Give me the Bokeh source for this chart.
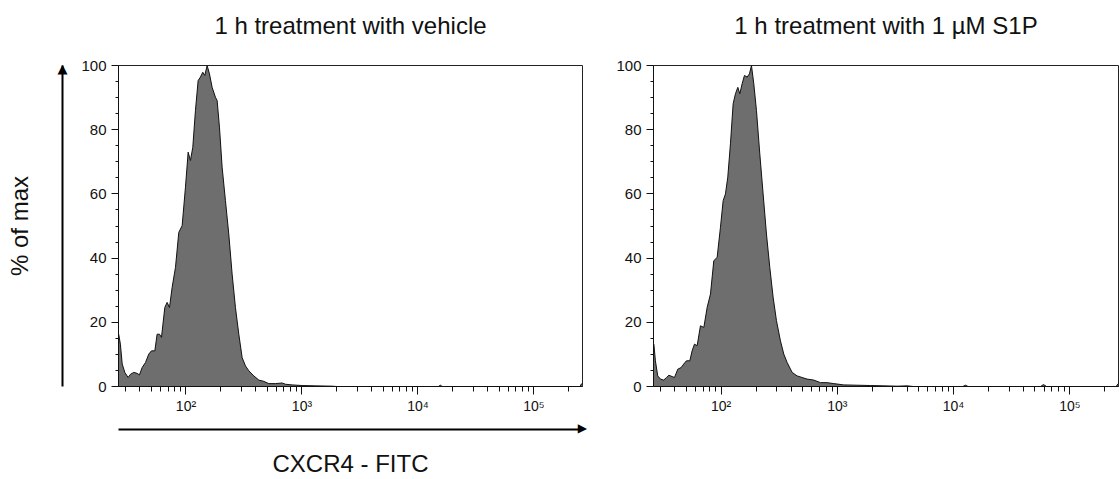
from bokeh.plotting import figure
from bokeh.models import Range1d, FixedTicker, LinearAxis, LogAxis
from bokeh.layouts import row
from bokeh.embed import file_html
from bokeh.resources import INLINE

FONT = "Liberation Sans"

titles = ["1 h treatment with vehicle", "1 h treatment with 1 µM S1P"]
y_label = "% of max"
x_label = "CXCR4 - FITC"

x_major_ticks = [100, 1000, 10000, 100000]
x_major_labels = ["10²", "10³", "10⁴", "10⁵"]
x_minor_ticks = [30, 40, 50, 60, 70, 80, 90,
                 200, 300, 400, 500, 600, 700, 800, 900,
                 2000, 3000, 4000, 5000, 6000, 7000, 8000, 9000,
                 20000, 30000, 40000, 50000, 60000, 70000, 80000, 90000,
                 200000]
y_major_ticks = [0, 20, 40, 60, 80, 100]
y_minor_ticks = [5, 10, 15, 25, 30, 35, 45, 50, 55, 65, 70, 75, 85, 90, 95]

vehicle_x = [26.3, 27.2, 28.2, 29.7, 31.7, 33.2, 35.5, 37.9, 39.7, 41.9,
             44.8, 47.8, 50.4, 53.9, 56.4, 59.1, 61.5, 65.7, 68.8, 72.1,
             76.0, 81.2, 86.7, 92.7, 99.0, 104.4, 109.3, 114.5, 120.7, 127.3,
             133.3, 139.6, 145.3, 152.2, 159.4, 168.1, 179.5, 185.6, 194.4, 205.0,
             218.9, 233.9, 250.0, 267.0, 285.4, 304.9, 325.9, 348.1, 384.6, 424.6,
             468.8, 517.6, 590.6, 674.5, 720.8, 822.5, 1003, 1307, 1820, 2000,
             15000, 15600, 16200, 250000, 256000, 262144]
vehicle_pct = [16.3, 13.2, 7.0, 4.4, 2.8, 3.8, 4.4, 4.1, 3.6, 5.9,
               7.5, 10.1, 11.1, 11.1, 16.3, 16.3, 15.3, 24.6, 26.2, 24.6,
               30.9, 37.1, 48.0, 50.1, 62.1, 73.0, 70.4, 74.5, 86.0, 95.3,
               96.4, 97.9, 96.9, 100, 97.4, 93.2, 90.1, 89.1, 80.8, 68.3,
               57.9, 47.5, 35.0, 24.6, 16.3, 9.0, 6.4, 4.9, 3.3, 2.0,
               1.6, 0.9, 0.9, 1.1, 0.7, 0.5, 0.3, 0.2, 0.1, 0,
               0, 0.4, 0, 0, 0.8, 0.8]

s1p_x = [26.4, 27.2, 28.5, 30.1, 32.1, 33.9, 35.5, 37.9, 39.7, 42.4,
         45.3, 47.7, 50.3, 53.8, 56.3, 59.0, 62.2, 66.4, 71.0, 75.8,
         81.0, 86.5, 92.4, 98.7, 104.1, 109.0, 114.1, 120.3, 126.9, 132.9,
         139.2, 144.8, 151.6, 158.8, 167.4, 175.3, 182.4, 191.0, 201.4, 215.1,
         229.8, 245.5, 262.2, 280.2, 299.3, 324.0, 346.0, 369.7, 408.1, 450.7,
         497.7, 549.6, 626.9, 715.5, 816.4, 931.8, 1136, 1479, 1926, 2507,
         3267, 3983, 4500, 12000, 12650, 13300, 56000, 59300, 63000, 250000,
         262144]
s1p_pct = [13.2, 8.0, 3.3, 2.3, 2.0, 2.8, 3.5, 3.1, 2.8, 5.4,
           5.9, 7.0, 8.0, 8.0, 11.1, 13.2, 12.7, 18.9, 18.4, 24.6,
           28.8, 39.2, 40.2, 49.6, 57.9, 60.0, 65.2, 75.6, 88.1, 91.2,
           93.2, 91.2, 94.3, 96.9, 96.4, 97.4, 100, 94.3, 86.0, 72.5,
           60.0, 47.5, 37.1, 27.8, 20.5, 14.2, 10.1, 7.5, 4.4, 3.3,
           2.8, 2.3, 2.0, 1.2, 1.2, 0.9, 0.5, 0.4, 0.3, 0.2,
           0.1, 0.2, 0, 0, 0.4, 0, 0, 0.6, 0, 0,
           1.0]

X_MIN, X_MAX = 26.2, 262144
ARROW_TIP_X = 261000   # where the x-arrow head sits
ARROW_TIP_Y = 99       # where the y-arrow head sits
SPACER_X = 1000        # tick value of the invisible spacer tick (bottom)
SPACER_Y = 50          # tick value of the invisible spacer tick (left)
FILL = "#6e6e6e"
INK = "#111111"


def no_ticks(ax):
    ax.major_tick_line_color = None
    ax.minor_tick_line_color = None
    ax.major_tick_in = 0
    ax.major_tick_out = 0
    ax.minor_tick_in = 0
    ax.minor_tick_out = 0


def spacer(axis_cls, tick, size):
    # invisible axis that only reserves space (white tick on white border)
    ax = axis_cls(ticker=FixedTicker(ticks=[tick], minor_ticks=[]),
                  major_label_overrides={tick: ""},
                  axis_line_color=None, major_tick_out=size, major_tick_in=0,
                  major_tick_line_color="white", minor_tick_line_color=None,
                  minor_tick_out=0, minor_tick_in=0, major_label_standoff=0)
    return ax


def make_panel(title, xs, ys, width, border_left, border_right, with_axis_titles):
    p = figure(width=width, height=479, x_axis_type="log",
               x_range=Range1d(X_MIN, X_MAX), y_range=Range1d(0, 100),
               output_backend="svg", toolbar_location=None,
               min_border_left=border_left, min_border_right=border_right,
               min_border_top=65, min_border_bottom=93)
    p.grid.visible = False
    p.background_fill_color = "white"
    p.border_fill_color = "white"
    p.outline_line_color = "#222222"
    p.outline_line_width = 1

    xa = p.below[0]
    ya = p.left[0]

    p.varea(x=xs, y1=0, y2=ys, fill_color=FILL)
    p.line(x=xs, y=ys, line_color=INK, line_width=1)

    xa.ticker = FixedTicker(ticks=x_major_ticks, minor_ticks=x_minor_ticks)
    xa.major_label_overrides = dict(zip(x_major_ticks, x_major_labels))
    xa.major_tick_out = 8
    xa.major_tick_in = 0
    xa.minor_tick_out = 5
    xa.minor_tick_in = 0
    xa.major_label_standoff = 3
    xa.axis_line_color = INK
    xa.major_tick_line_color = INK
    xa.minor_tick_line_color = INK
    xa.major_label_text_font = FONT
    xa.major_label_text_font_size = "14px"
    xa.major_label_text_color = INK

    ya.ticker = FixedTicker(ticks=y_major_ticks, minor_ticks=y_minor_ticks)
    ya.major_tick_out = 7
    ya.major_tick_in = 0
    ya.minor_tick_out = 3
    ya.minor_tick_in = 0
    ya.major_label_standoff = 5
    ya.axis_line_color = INK
    ya.major_tick_line_color = INK
    ya.minor_tick_line_color = INK
    ya.major_label_text_font = FONT
    ya.major_label_text_font_size = "15px"
    ya.major_label_text_color = INK

    # panel title, drawn as the label of a bare axis above the frame
    ta = LogAxis(ticker=FixedTicker(ticks=[], minor_ticks=[]), axis_line_color=None,
                 axis_label=title, axis_label_standoff=27,
                 axis_label_text_font=FONT, axis_label_text_font_size="24px",
                 axis_label_text_font_style="normal", axis_label_text_color=INK)
    no_ticks(ta)
    p.add_layout(ta, "above")

    if with_axis_titles:
        p.add_layout(spacer(LinearAxis, SPACER_Y, 16), "left")
        # y arrow: axis line as shaft, triangle label as head
        ar_y = LinearAxis(ticker=FixedTicker(ticks=[ARROW_TIP_Y], minor_ticks=[]),
                          major_label_overrides={ARROW_TIP_Y: "▲"},
                          major_label_standoff=-5,
                          axis_line_color="black", axis_line_width=2,
                          major_label_text_font="DejaVu Sans",
                          major_label_text_font_size="13px",
                          major_label_text_color="black",
                          axis_label=y_label, axis_label_standoff=22,
                          axis_label_text_font=FONT,
                          axis_label_text_font_size="24px",
                          axis_label_text_font_style="normal",
                          axis_label_text_color=INK)
        no_ticks(ar_y)
        p.add_layout(ar_y, "left")

        p.add_layout(spacer(LogAxis, SPACER_X, 13), "below")
        ar_x = LogAxis(ticker=FixedTicker(ticks=[ARROW_TIP_X], minor_ticks=[]),
                       major_label_overrides={ARROW_TIP_X: "▶"},
                       major_label_standoff=-9,
                       axis_line_color="black", axis_line_width=2,
                       major_label_text_font="DejaVu Sans",
                       major_label_text_font_size="12px",
                       major_label_text_color="black",
                       axis_label=x_label, axis_label_standoff=12,
                       axis_label_text_font=FONT,
                       axis_label_text_font_size="24px",
                       axis_label_text_font_style="normal",
                       axis_label_text_color=INK)
        no_ticks(ar_x)
        p.add_layout(ar_x, "below")
    return p


p1 = make_panel(titles[0], vehicle_x, vehicle_pct, 600, 118, 18, True)
p2 = make_panel(titles[1], s1p_x, s1p_pct, 519, 53, 1, False)

layout = row(p1, p2, spacing=0)

with open("out.html", "w") as f:
    f.write(file_html(layout, INLINE))
